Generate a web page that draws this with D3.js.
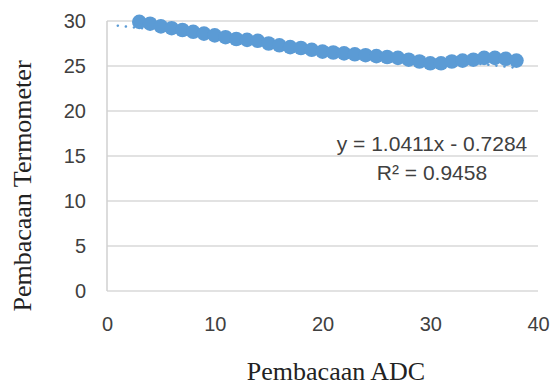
<!DOCTYPE html>
<html>
<head>
<meta charset="utf-8">
<script src="https://cdn.jsdelivr.net/npm/d3@7"></script>
<style>
  body { margin: 0; background: #fff; }
</style>
</head>
<body>
<div id="chart"></div>
<script>
// data
var adc = [3, 4, 5, 6, 7, 8, 9, 10, 11, 12, 13, 14, 15, 16, 17, 18, 19, 20, 21, 22,
  23, 24, 25, 26, 27, 28, 29, 30, 31, 32, 33, 34, 35, 36, 37, 38];
var termo = [29.9, 29.7, 29.4, 29.2, 29.0, 28.8, 28.6, 28.4, 28.2, 28.0, 27.9, 27.8,
  27.5, 27.3, 27.1, 27.0, 26.8, 26.6, 26.5, 26.4, 26.3, 26.2, 26.1, 26.0, 25.9, 25.7,
  25.5, 25.3, 25.3, 25.5, 25.6, 25.7, 25.9, 25.9, 25.8, 25.6];
var xTicks = [0, 10, 20, 30, 40];
var yTicks = [0, 5, 10, 15, 20, 25, 30];
var eqText = "y = 1.0411x - 0.7284";
var r2Text = "R² = 0.9458";

var W = 552, H = 387;
var margin = { top: 21, right: 14, bottom: 96, left: 107 },
  width = W - margin.left - margin.right,
  height = H - margin.top - margin.bottom;

var svg = d3.select("#chart")
  .append("svg")
  .attr("width", W)
  .attr("height", H)
  .style("display", "block");

var g = svg.append("g")
  .attr("transform", "translate(" + margin.left + "," + margin.top + ")");

var x = d3.scaleLinear().domain([0, 40]).range([0, width]);
var y = d3.scaleLinear().domain([0, 30]).range([height, 0]);

// gridlines
g.append("g")
  .selectAll("line")
  .data(yTicks)
  .enter().append("line")
  .attr("x1", 0)
  .attr("x2", width)
  .attr("y1", function (d) { return y(d); })
  .attr("y2", function (d) { return y(d); })
  .attr("stroke", "#d9d9d9")
  .attr("stroke-width", 1.5);

// left axis line
g.append("line")
  .attr("x1", 0).attr("x2", 0)
  .attr("y1", 0).attr("y2", height)
  .attr("stroke", "#d0d0d0")
  .attr("stroke-width", 1.5);

// axes (labels only)
var yAxis = g.append("g")
  .call(d3.axisLeft(y).tickValues(yTicks).tickSize(0).tickPadding(21));
var xAxis = g.append("g")
  .attr("transform", "translate(0," + height + ")")
  .call(d3.axisBottom(x).tickValues(xTicks).tickSize(0).tickPadding(26));
[xAxis, yAxis].forEach(function (a) {
  a.select(".domain").remove();
  a.selectAll("text")
    .style("font-family", "'Liberation Sans', Arial, sans-serif")
    .style("font-size", "20px")
    .attr("fill", "#404040");
});

// linear trendline (least squares), dotted, forecast back to x = 1
var mx = d3.mean(adc), my = d3.mean(termo);
var sxy = d3.sum(adc, function (d, i) { return (d - mx) * (termo[i] - my); });
var sxx = d3.sum(adc, function (d) { return (d - mx) * (d - mx); });
var slope = sxy / sxx, icpt = my - slope * mx;
var tx = [1, d3.max(adc)];
g.append("line")
  .attr("x1", x(tx[0])).attr("y1", y(icpt + slope * tx[0]))
  .attr("x2", x(tx[1])).attr("y2", y(icpt + slope * tx[1]))
  .attr("stroke", "#5b9bd5")
  .attr("stroke-width", 2.5)
  .attr("stroke-linecap", "round")
  .attr("stroke-dasharray", "0.1,8");

// points
g.append("g")
  .selectAll("circle")
  .data(adc)
  .enter().append("circle")
  .attr("cx", function (d) { return x(d); })
  .attr("cy", function (d, i) { return y(termo[i]); })
  .attr("r", 7.3)
  .attr("fill", "#5b9bd5");

// trendline label
var lbl = svg.append("g")
  .style("font-family", "'Liberation Sans', Arial, sans-serif")
  .style("font-size", "21px")
  .attr("fill", "#404040")
  .attr("text-anchor", "middle");
lbl.append("text").attr("x", 432).attr("y", 151).text(eqText);
lbl.append("text").attr("x", 432).attr("y", 180).text(r2Text);

// axis titles
svg.append("text")
  .attr("x", 336)
  .attr("y", 380)
  .attr("text-anchor", "middle")
  .style("font-family", "'Liberation Serif', 'Times New Roman', serif")
  .style("font-size", "26px")
  .attr("fill", "#222")
  .text("Pembacaan ADC");

svg.append("text")
  .attr("transform", "translate(31,186) rotate(-90)")
  .attr("text-anchor", "middle")
  .style("font-family", "'Liberation Serif', 'Times New Roman', serif")
  .style("font-size", "26px")
  .attr("fill", "#222")
  .text("Pembacaan Termometer");
</script>
</body>
</html>
